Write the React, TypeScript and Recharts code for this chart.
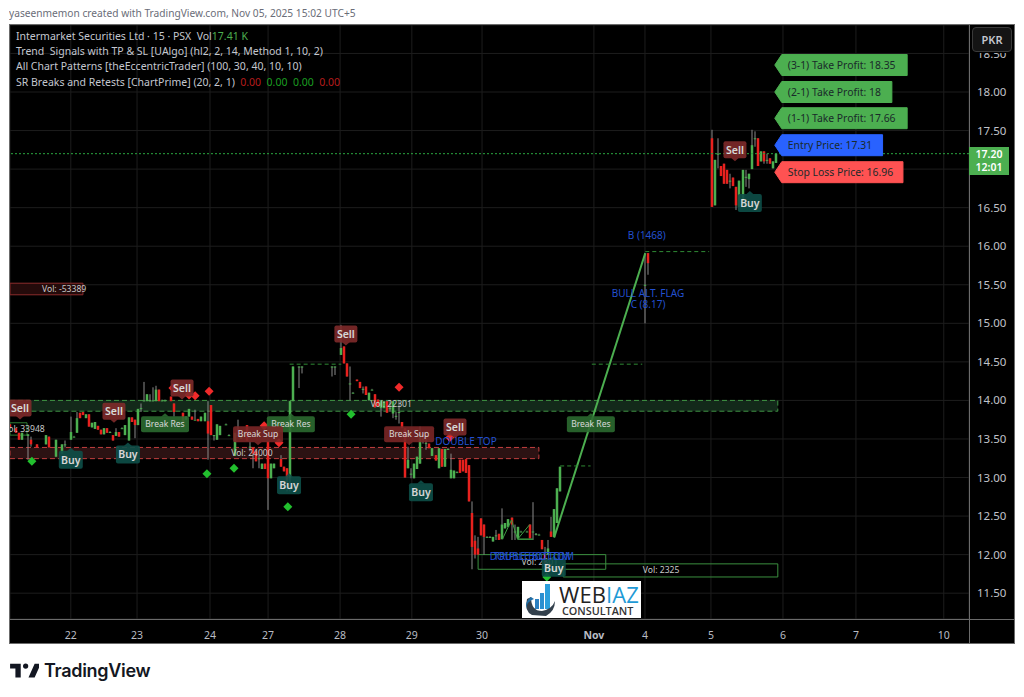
import {
  Bar,
  CartesianGrid,
  ComposedChart,
  Line,
  ReferenceArea,
  ReferenceLine,
  Scatter,
  XAxis,
  YAxis,
} from "recharts";

// candles are [bar number, open, high, low, close], grouped by stretch of the chart
const oct21: number[][] = [
  [0, 13.69, 13.69, 13.64, 13.64], [2, 13.64, 13.64, 13.58, 13.58], [3, 13.58, 13.58, 13.49, 13.49],
  [4, 13.49, 13.58, 13.49, 13.58], [6, 13.54, 13.56, 13.23, 13.56], [7, 13.49, 13.53, 13.4, 13.43],
  [9, 13.43, 13.43, 13.39, 13.39], [12, 13.43, 13.55, 13.43, 13.55], [13, 13.53, 13.53, 13.39, 13.39],
  [15, 13.27, 13.49, 13.27, 13.49], [17, 13.31, 13.43, 13.31, 13.43], [18, 13.43, 13.48, 13.39, 13.43],
];
const oct22: number[][] = [
  [20, 13.49, 13.79, 13.49, 13.59], [21, 13.53, 13.54, 13.53, 13.53], [22, 13.58, 13.85, 13.58, 13.77],
  [23, 13.84, 13.84, 13.77, 13.77], [24, 13.85, 13.85, 13.81, 13.81], [25, 13.77, 13.82, 13.77, 13.82],
  [26, 13.82, 13.82, 13.66, 13.66], [27, 13.65, 13.71, 13.65, 13.71], [28, 13.63, 13.72, 13.63, 13.72],
  [29, 13.67, 13.67, 13.62, 13.62], [30, 13.62, 13.62, 13.56, 13.56], [31, 13.56, 13.64, 13.56, 13.64],
  [32, 13.64, 13.64, 13.58, 13.58], [33, 13.59, 13.6, 13.59, 13.59], [34, 13.55, 13.55, 13.48, 13.48],
  [35, 13.54, 13.64, 13.54, 13.59], [36, 13.59, 13.59, 13.53, 13.53], [37, 13.64, 13.65, 13.64, 13.64],
  [38, 13.55, 13.68, 13.55, 13.68], [39, 13.48, 13.78, 13.48, 13.78], [40, 13.78, 13.78, 13.72, 13.72],
  [41, 13.75, 13.75, 13.51, 13.68],
];
const oct23: number[][] = [
  [42, 13.68, 13.89, 13.68, 13.89], [43, 13.9, 13.96, 13.85, 13.9], [44, 14.0, 14.24, 13.99, 14.0],
  [45, 13.99, 14.08, 13.99, 14.08], [46, 14.0, 14.08, 13.99, 14.0], [47, 14.0, 14.17, 13.99, 14.0],
  [48, 13.99, 14.19, 13.99, 14.14], [49, 14.14, 14.14, 13.99, 13.99], [50, 14.0, 14.01, 14.0, 14.0],
  [51, 14.0, 14.01, 14.0, 14.0], [53, 14.05, 14.05, 13.99, 13.99], [54, 13.96, 13.96, 13.79, 13.85],
  [57, 13.84, 13.84, 13.72, 13.72], [58, 13.75, 13.79, 13.75, 13.79], [59, 13.79, 13.89, 13.79, 13.89],
  [60, 13.79, 13.79, 13.75, 13.75], [61, 13.75, 13.88, 13.75, 13.75], [62, 13.76, 13.76, 13.73, 13.73],
  [63, 13.73, 13.79, 13.73, 13.79], [64, 13.73, 13.84, 13.73, 13.84],
];
const oct24: number[][] = [
  [65, 13.73, 13.99, 13.23, 13.57], [66, 13.94, 13.94, 13.55, 13.55], [67, 13.55, 13.55, 13.48, 13.55],
  [68, 13.49, 13.69, 13.49, 13.69], [69, 13.55, 13.67, 13.55, 13.67], [71, 13.69, 13.7, 13.69, 13.69],
  [72, 13.55, 13.56, 13.55, 13.55], [74, 13.28, 13.58, 13.28, 13.58], [75, 13.55, 13.75, 13.55, 13.55],
  [76, 13.5, 13.55, 13.5, 13.55], [78, 13.68, 13.68, 13.48, 13.48], [79, 13.4, 13.46, 13.34, 13.4],
  [80, 13.39, 13.39, 13.12, 13.31], [81, 13.34, 13.34, 13.21, 13.21], [82, 13.25, 13.29, 13.12, 13.25],
];
const oct27: number[][] = [
  [83, 13.11, 13.18, 13.11, 13.18], [84, 13.18, 13.18, 13.11, 13.11], [85, 13.47, 13.47, 12.58, 12.99],
  [86, 12.99, 13.18, 12.99, 13.18], [87, 13.12, 13.18, 13.12, 13.18], [89, 13.24, 13.29, 13.14, 13.14],
  [90, 13.14, 13.14, 13.08, 13.08], [91, 13.12, 13.12, 12.82, 12.97], [92, 12.99, 13.99, 12.82, 13.99],
  [93, 13.99, 14.44, 13.99, 14.44], [95, 14.44, 14.44, 14.16, 14.44], [96, 14.44, 14.44, 14.35, 14.44],
  [106, 14.44, 14.44, 14.31, 14.44], [107, 14.44, 14.44, 14.33, 14.44],
];
const oct28: number[][] = [
  [109, 14.59, 14.98, 14.59, 14.68], [110, 14.7, 14.7, 14.48, 14.48], [111, 14.48, 14.48, 14.31, 14.31],
  [112, 14.22, 14.44, 14.0, 14.22], [113, 14.1, 14.11, 14.1, 14.1], [114, 14.27, 14.27, 14.25, 14.25],
  [115, 14.24, 14.24, 14.16, 14.16], [116, 14.15, 14.18, 14.09, 14.15], [117, 14.18, 14.18, 14.07, 14.07],
  [118, 14.0, 14.1, 14.0, 14.1], [119, 14.14, 14.15, 14.14, 14.14], [120, 14.08, 14.08, 13.91, 13.91],
  [121, 14.01, 14.01, 13.92, 13.92], [122, 13.9, 13.99, 13.79, 13.99], [123, 13.9, 13.99, 13.9, 13.99],
  [124, 13.99, 13.99, 13.84, 13.84], [125, 13.9, 13.99, 13.85, 13.9], [126, 13.83, 13.99, 13.77, 13.99],
  [127, 13.8, 13.85, 13.75, 13.8], [128, 13.85, 13.99, 13.7, 13.85], [129, 13.72, 13.72, 13.64, 13.64],
];
const oct29: number[][] = [
  [130, 13.64, 13.64, 13.0, 13.0], [131, 13.12, 13.4, 13.12, 13.23], [132, 13.05, 13.12, 12.99, 13.05],
  [133, 12.99, 13.18, 12.99, 13.18], [134, 13.11, 13.27, 13.11, 13.27], [135, 13.18, 13.66, 13.18, 13.57],
  [136, 13.5, 13.57, 13.44, 13.5], [137, 13.45, 13.55, 13.36, 13.45], [138, 13.44, 13.44, 13.38, 13.38],
  [139, 13.28, 13.38, 13.28, 13.38], [140, 13.29, 13.29, 13.22, 13.22], [141, 13.12, 13.38, 13.12, 13.38],
  [142, 13.37, 13.37, 13.14, 13.14], [143, 13.14, 13.37, 13.14, 13.37], [144, 13.37, 13.38, 13.37, 13.37],
  [145, 12.99, 13.31, 12.99, 13.1], [146, 12.99, 13.09, 12.99, 13.09], [147, 13.07, 13.08, 13.07, 13.07],
  [148, 13.23, 13.23, 13.06, 13.06], [149, 13.23, 13.23, 13.08, 13.08], [150, 13.24, 13.24, 13.06, 13.06],
  [151, 13.16, 13.16, 12.69, 12.69],
];
const oct30: number[][] = [
  [152, 12.54, 12.69, 11.81, 12.1], [153, 12.18, 12.25, 11.95, 12.0], [154, 12.08, 12.23, 12.0, 12.0],
  [155, 12.47, 12.47, 12.25, 12.25], [156, 12.39, 12.39, 12.0, 12.23], [157, 12.23, 12.24, 12.23, 12.23],
  [158, 12.23, 12.24, 12.23, 12.23], [159, 12.17, 12.23, 12.17, 12.23], [160, 12.25, 12.32, 12.19, 12.25],
  [161, 12.27, 12.27, 12.19, 12.19], [162, 12.2, 12.6, 12.2, 12.39], [163, 12.34, 12.41, 12.34, 12.41],
  [164, 12.36, 12.46, 12.36, 12.46], [165, 12.48, 12.48, 12.19, 12.39], [166, 12.3, 12.39, 12.19, 12.3],
  [167, 12.21, 12.36, 12.21, 12.36], [168, 12.3, 12.31, 12.3, 12.3], [170, 12.3, 12.31, 12.3, 12.3],
  [171, 12.39, 12.39, 12.21, 12.21], [172, 12.3, 12.68, 12.19, 12.3], [173, 12.27, 12.28, 12.25, 12.27],
  [174, 12.26, 12.27, 12.26, 12.26], [175, 12.19, 12.19, 12.07, 12.07], [176, 12.0, 12.1, 11.88, 11.88],
  [177, 12.0, 12.19, 12.0, 12.08], [178, 12.3, 12.49, 12.23, 12.23], [179, 12.23, 12.59, 12.23, 12.59],
  [180, 12.41, 12.86, 12.41, 12.86], [181, 12.82, 13.14, 12.82, 13.14],
];
const nov4: number[][] = [
  [209, 15.5, 15.91, 15.0, 15.5], [210, 15.91, 15.91, 15.63, 15.78],
];
const nov5: number[][] = [
  [231, 17.4, 17.51, 16.51, 16.51], [232, 16.53, 17.12, 16.53, 17.12], [233, 17.2, 17.4, 17.01, 17.2],
  [234, 17.04, 17.04, 16.91, 16.91], [235, 17.07, 17.07, 16.81, 16.81], [236, 16.99, 16.99, 16.81, 16.81],
  [237, 16.85, 16.94, 16.75, 16.85], [238, 16.89, 16.89, 16.78, 16.78], [239, 16.77, 16.77, 16.47, 16.53],
  [240, 16.51, 16.85, 16.51, 16.85], [241, 16.6, 16.99, 16.6, 16.99], [242, 16.9, 16.99, 16.77, 16.9],
  [243, 16.87, 16.94, 16.75, 16.94], [244, 17.0, 17.51, 17.0, 17.31], [245, 17.4, 17.49, 17.29, 17.4],
  [246, 17.4, 17.4, 17.04, 17.04], [247, 17.1, 17.23, 17.1, 17.23], [248, 17.23, 17.23, 17.07, 17.1],
  [249, 17.12, 17.2, 17.07, 17.12], [250, 17.14, 17.14, 17.07, 17.07], [251, 17.01, 17.1, 17.01, 17.1],
  [252, 17.08, 17.2, 17.08, 17.2],
];

const priceTicks = [11.5, 12, 12.5, 13, 13.5, 14, 14.5, 15, 15.5, 16, 16.5, 17, 17.5, 18, 18.5];
const dayTicks = [20, 41.8, 65.8, 84.9, 108.6, 132.2, 155.3, 192.1, 208.9, 230.6, 254.3, 278.3, 307.2];
const dayLabels = ["22", "23", "24", "27", "28", "29", "30", "Nov", "4", "5", "6", "7", "10"];

const legendRows = [
  "Trend  Signals with TP & SL [UAlgo] (hl2, 2, 14, Method 1, 10, 2)",
  "All Chart Patterns [theEccentricTrader] (100, 30, 40, 10, 10)",
];

const sellMarks = [[3.3, 13.9], [34.2, 13.86], [56.6, 14.16], [110.5, 14.86], [146.4, 13.655], [238.5, 17.25]];
const buyMarks = [[20, 13.23], [38.8, 13.3], [91.8, 12.9], [135.2, 12.81], [178.9, 11.83], [243.4, 16.56]];
const breakResMarks = [[51, 13.69], [92.4, 13.69], [191.1, 13.69]];
const breakSupMarks = [[81.6, 13.56], [131.3, 13.56]];
const greenDiamonds = [[7.2, 13.21], [64.8, 13.05], [73.7, 13.12], [91.4, 12.62], [112.2, 13.82], [176.6, 11.71]];
const redDiamonds = [[53.6, 14.16], [58.9, 14.07], [60.9, 14.06], [65.5, 14.12], [128, 14.17], [144.7, 13.52], [83.6, 13.67], [88.5, 13.45]];

const patternTexts: [number, number, string][] = [
  [150, 13.47, "DOUBLE TOP"],
  [209.5, 16.145, "B (1468)"],
  [209.9, 15.39, "BULL ALT. FLAG"],
  [209.9, 15.24, "C (8.17)"],
  [171.7, 11.98, "TRIPLE BOTTOM"],
  [171.7, 11.98, "DOUBLE BOTTOM"],
];
const volumeTexts: [number, number, string][] = [
  [17.8, 15.45, "Vol: -53389"],
  [4.6, 13.63, "Vol: 33948"],
  [125.4, 13.95, "Vol: 22301"],
  [79.6, 13.32, "Vol: 24000"],
  [174.3, 11.91, "Vol: 2301"],
  [214.2, 11.8, "Vol: 2325"],
];
const targetLabels: [number, string, string][] = [
  [18.35, "(3-1) Take Profit: 18.35", "#4caf50"],
  [18, "(2-1) Take Profit: 18", "#4caf50"],
  [17.66, "(1-1) Take Profit: 17.66", "#4caf50"],
  [17.31, "Entry Price: 17.31", "#2962ff"],
  [16.96, "Stop Loss Price: 16.96", "#ff5252"],
];
const targetBar = 251.6;

const mainLeg = [{ n: 179, p: 12.22 }, { n: 209, p: 15.91 }];
const triangleLeg = [
  { n: 162, p: 12.2 }, { n: 165, p: 12.45 }, { n: 167, p: 12.2 }, { n: 172, p: 12.2 },
  { n: 167, p: 12.2 }, { n: 171, p: 12.39 },
];
const stepLevels = [
  [92, 109, 14.47],
  [191.4, 208, 14.47],
  [181, 191, 13.15],
  [209, 230, 15.93],
];

const candles = [...oct21, ...oct22, ...oct23, ...oct24, ...oct27, ...oct28, ...oct29, ...oct30, ...nov4, ...nov5].map(
  ([n, o, h, l, c]) => ({ n, o, h, l, c, range: [l, h] })
);
const toPoints = (rows: number[][]) => rows.map(([n, p]) => ({ n, p }));
const toTexts = (rows: [number, number, string][]) => rows.map(([n, p, text]) => ({ n, p, text }));

const UI_FONT = "'Noto Sans', sans-serif";

function Candle(props: any) {
  const { x, y, width, height, payload } = props;
  const { o, h, l, c } = payload;
  const cx = Math.round(x + width / 2);
  const perPrice = height / (h - l);
  const top = y + (h - Math.max(o, c)) * perPrice;
  const bodyH = Math.max(Math.abs(o - c) * perPrice, 1);
  return (
    <g>
      <rect x={cx - 0.5} y={y} width={1} height={height} fill="#8a8a8a" />
      <rect x={cx - 1.25} y={top} width={2.5} height={bodyH} fill={c >= o ? "#4caf50" : "#e8211e"} />
    </g>
  );
}

function Bubble({ cx, cy, w, h, fill, text, up, size, weight }: any) {
  const x = cx - w / 2;
  const y = cy - h / 2;
  const tip = up
    ? `${cx - 4},${y + 0.5} ${cx},${y - 3} ${cx + 4},${y + 0.5}`
    : `${cx - 4},${y + h - 0.5} ${cx},${y + h + 3} ${cx + 4},${y + h - 0.5}`;
  return (
    <g opacity={0.9}>
      <rect x={x} y={y} width={w} height={h} rx={2} fill={fill} />
      <polygon points={tip} fill={fill} />
      <text x={cx} y={cy + size * 0.36} textAnchor="middle" fontFamily={UI_FONT} fontSize={size} fontWeight={weight} fill="#eeeeee">
        {text}
      </text>
    </g>
  );
}

const sellShape = (p: any) => <Bubble cx={p.cx} cy={p.cy} w={23} h={17} fill="#7f2b2b" text="Sell" size={10.5} weight={600} />;
const buyShape = (p: any) => <Bubble cx={p.cx} cy={p.cy} w={24} h={18} fill="#0e4f49" text="Buy" up size={10.5} weight={600} />;
const breakResShape = (p: any) => <Bubble cx={p.cx} cy={p.cy} w={48} h={16} fill="#2c6b30" text="Break Res" up size={8.5} />;
const breakSupShape = (p: any) => <Bubble cx={p.cx} cy={p.cy} w={50} h={16} fill="#7a2626" text="Break Sup" size={8.5} />;

const diamond = (fill: string) => (p: any) => (
  <polygon points={`${p.cx},${p.cy - 4.5} ${p.cx + 4.5},${p.cy} ${p.cx},${p.cy + 4.5} ${p.cx - 4.5},${p.cy}`} fill={fill} />
);

const patternShape = (p: any) => (
  <text x={p.cx} y={p.cy + 3.5} textAnchor="middle" fontFamily={UI_FONT} fontSize={10} fill="#2350d0">
    {p.payload.text}
  </text>
);
const volumeShape = (p: any) => (
  <text x={p.cx} y={p.cy + 3} textAnchor="middle" fontFamily={UI_FONT} fontSize={8.6} fill="#c8c8c8">
    {p.payload.text}
  </text>
);

function TargetShape(p: any) {
  const { cx, cy, payload } = p;
  const w = payload.text.length * 5.1 + (payload.text.startsWith("(") ? 10 : 16);
  const h = 21;
  const d = `M${cx},${cy} L${cx + 7},${cy - h / 2} H${cx + w} V${cy + h / 2} H${cx + 7} Z`;
  return (
    <g>
      <path d={d} fill={payload.color} stroke={payload.color} strokeLinejoin="round" />
      <text x={cx + 13} y={cy + 3.5} fontFamily={UI_FONT} fontSize={10.4} fill="#1a2a2a">
        {payload.text}
      </text>
    </g>
  );
}

function DayTick({ x, y, payload }: any) {
  const label = dayLabels[dayTicks.indexOf(payload.value)];
  return (
    <text x={x} y={y + 12} textAnchor="middle" fontFamily={UI_FONT} fontSize={10.5} fontWeight={label === "Nov" ? 700 : 400} fill="#b9bcc4">
      {label}
    </text>
  );
}

const legendLine = { position: "absolute", left: 16, fontFamily: UI_FONT, fontSize: 10.5, lineHeight: "14px", color: "#c4c7cf", whiteSpace: "pre" } as const;

export default function App() {
  return (
    <div style={{ position: "absolute", left: 0, top: 0, width: 1024, height: 697, background: "#fff", overflow: "hidden" }}>
      <div style={{ position: "absolute", left: 9, top: 6, fontFamily: UI_FONT, fontSize: 10.2, color: "#6a6d78", whiteSpace: "pre" }}>
        yaseenmemon created with TradingView.com, Nov 05, 2025 15:02 UTC+5
      </div>
      <div style={{ position: "absolute", left: 9, top: 24, width: 1006, height: 620, background: "#000" }} />

      <div style={{ position: "absolute", left: 0, top: 0 }}>
        <ComposedChart width={1024} height={697} data={candles} margin={{ top: 25, right: 10, bottom: 53, left: 10 }}>
          <CartesianGrid stroke="#1d1d1d" />
          <XAxis
            dataKey="n"
            type="number"
            domain={[0, 315.5]}
            ticks={dayTicks}
            interval={0}
            height={25}
            axisLine={false}
            tickLine={false}
            tick={<DayTick />}
          />
          <YAxis
            orientation="right"
            type="number"
            domain={[11.165, 18.869]}
            ticks={priceTicks}
            interval={0}
            width={45}
            axisLine={false}
            tickLine={false}
            tick={{ fill: "#c0c3ca", fontSize: 11.5, fontFamily: UI_FONT }}
            tickFormatter={(v: number) => (v === 17 ? "" : v.toFixed(2))}
          />

          <ReferenceArea x1={0} x2={252.6} y1={13.86} y2={14.0} fill="#13291a" fillOpacity={1} stroke="#3f9444" strokeDasharray="5 3" />
          <ReferenceArea x1={0} x2={174} y1={13.245} y2={13.39} fill="#2c1213" fillOpacity={1} stroke="#c23f3f" strokeDasharray="5 3" />
          <ReferenceArea x1={0} x2={24} y1={15.37} y2={15.52} fill="#240b0b" fillOpacity={1} stroke="#8b2c2c" />
          <ReferenceArea x1={0} x2={5.6} y1={13.55} y2={13.71} fillOpacity={0} stroke="#2f7d33" />
          <ReferenceArea x1={154} x2={196} y1={11.81} y2={12.0} fillOpacity={0} stroke="#3b8f3f" />
          <ReferenceArea x1={182} x2={252.6} y1={11.71} y2={11.88} fillOpacity={0} stroke="#3b8f3f" />
          <ReferenceLine y={17.2} stroke="#2aa63f" strokeDasharray="2 2" />

          <Bar dataKey="range" barSize={3} shape={<Candle />} isAnimationActive={false} />

          <Line data={mainLeg} dataKey="p" stroke="#4caf50" strokeWidth={2} dot={false} isAnimationActive={false} />
          <Line data={triangleLeg} dataKey="p" stroke="#3e9d43" strokeWidth={1} dot={false} isAnimationActive={false} />
          {stepLevels.map(([from, to, p]) => (
            <Line
              key={from}
              data={[{ n: from, p }, { n: to, p }]}
              dataKey="p"
              stroke="#2f8a34"
              strokeDasharray="4 3"
              strokeWidth={1}
              dot={false}
              isAnimationActive={false}
            />
          ))}

          <Scatter data={toTexts(volumeTexts)} dataKey="p" shape={volumeShape} isAnimationActive={false} />
          <Scatter data={toPoints(greenDiamonds)} dataKey="p" shape={diamond("#22c02e")} isAnimationActive={false} />
          <Scatter data={toPoints(redDiamonds)} dataKey="p" shape={diamond("#f02a2a")} isAnimationActive={false} />
          <Scatter data={toPoints(breakResMarks)} dataKey="p" shape={breakResShape} isAnimationActive={false} />
          <Scatter data={toPoints(breakSupMarks)} dataKey="p" shape={breakSupShape} isAnimationActive={false} />
          <Scatter data={toPoints(sellMarks)} dataKey="p" shape={sellShape} isAnimationActive={false} />
          <Scatter data={toPoints(buyMarks)} dataKey="p" shape={buyShape} isAnimationActive={false} />
          <Scatter data={toTexts(patternTexts)} dataKey="p" shape={patternShape} isAnimationActive={false} />
          <Scatter
            data={targetLabels.map(([p, text, color]) => ({ n: targetBar, p, text, color }))}
            dataKey="p"
            shape={<TargetShape />}
            isAnimationActive={false}
          />
        </ComposedChart>
      </div>

      {/* frame, axis separators and the pieces that sit on top of the plot */}
      <div style={{ position: "absolute", left: 0, top: 0, width: 9, height: 697, background: "#fff" }} />
      <div style={{ position: "absolute", left: 9, top: 24, width: 1004, height: 618, border: "1px solid #6b6b6b" }} />
      <div style={{ position: "absolute", left: 10, top: 619, width: 1004, height: 1, background: "#6b6b6b" }} />
      <div style={{ position: "absolute", left: 969, top: 25, width: 1, height: 618, background: "#6b6b6b" }} />

      <div style={{ ...legendLine, top: 29 }}>
        Intermarket Securities Ltd · 15 · PSX  Vol<span style={{ color: "#4caf50" }}>17.41 K</span>
      </div>
      <div style={{ ...legendLine, top: 44 }}>{legendRows[0]}</div>
      <div style={{ ...legendLine, top: 59 }}>{legendRows[1]}</div>
      <div style={{ ...legendLine, top: 75 }}>
        SR Breaks and Retests [ChartPrime] (20, 2, 1)  <span style={{ color: "#b71c1c" }}>0.00</span>{"  "}
        <span style={{ color: "#1b9e20" }}>0.00</span>{"  "}
        <span style={{ color: "#1b9e20" }}>0.00</span>{"  "}
        <span style={{ color: "#b71c1c" }}>0.00</span>
      </div>

      <div style={{ position: "absolute", left: 970, top: 25, width: 44, height: 28, background: "#000" }} />
      <div style={{ position: "absolute", left: 972, top: 27, width: 40, height: 25, boxSizing: "border-box", background: "#141414", border: "1px solid #3a3a3a", borderRadius: 4, color: "#c4c7cf", fontFamily: UI_FONT, fontSize: 11, fontWeight: 600, textAlign: "center", lineHeight: "23px" }}>
        PKR
      </div>

      <div style={{ position: "absolute", left: 969, top: 147, width: 40, height: 27, background: "#4caf50", color: "#fff", fontFamily: UI_FONT, fontSize: 10.5, fontWeight: 600, textAlign: "center", lineHeight: "13px", paddingTop: 1 }}>
        17.20
        <br />
        12:01
      </div>

      <div style={{ position: "absolute", left: 522, top: 581, width: 119, height: 37, background: "#fff" }}>
        <svg width={119} height={37} style={{ position: "absolute", left: 0, top: 0 }}>
          <rect x={13} y={18} width={4} height={10} fill="#2b7fc0" />
          <rect x={18} y={12} width={4} height={16} fill="#2b8fd0" />
          <rect x={23} y={3} width={5} height={25} fill="#2b9fdc" />
          <path d="M5 18 Q2 30 10 34 L24 35 Q33 30 33 20 Q30 28 20 30 Q9 30 9 16 Z" fill="#33404c" />
          <path d="M9 16 Q3 20 4 28 Q5 20 12 18 Z" fill="#1f6fa8" />
        </svg>
        <div style={{ position: "absolute", left: 37, top: 1, fontFamily: "'Open Sans', sans-serif", fontSize: 22, letterSpacing: 0.1, color: "#222", lineHeight: "25px" }}>
          WEB<span style={{ color: "#1e9ad6" }}>IAZ</span>
        </div>
        <div style={{ position: "absolute", left: 40, top: 23, fontFamily: "'Open Sans', sans-serif", fontSize: 10.8, fontWeight: 600, color: "#333", lineHeight: "13px" }}>
          CONSULTANT
        </div>
      </div>

      <svg width={30} height={18} viewBox="0 0 36 22" style={{ position: "absolute", left: 9, top: 662 }}>
        <path d="M14 2H1v6h6.5v11H14V2z M31 19h-7.5L31 2h7.5L31 19z" fill="#131722" />
        <circle cx={20} cy={5} r={3.2} fill="#131722" />
      </svg>
      <div style={{ position: "absolute", left: 44, top: 659, fontFamily: "Inter, sans-serif", fontSize: 18, fontWeight: 600, color: "#131722", letterSpacing: -0.3, lineHeight: "24px" }}>
        TradingView
      </div>
    </div>
  );
}
